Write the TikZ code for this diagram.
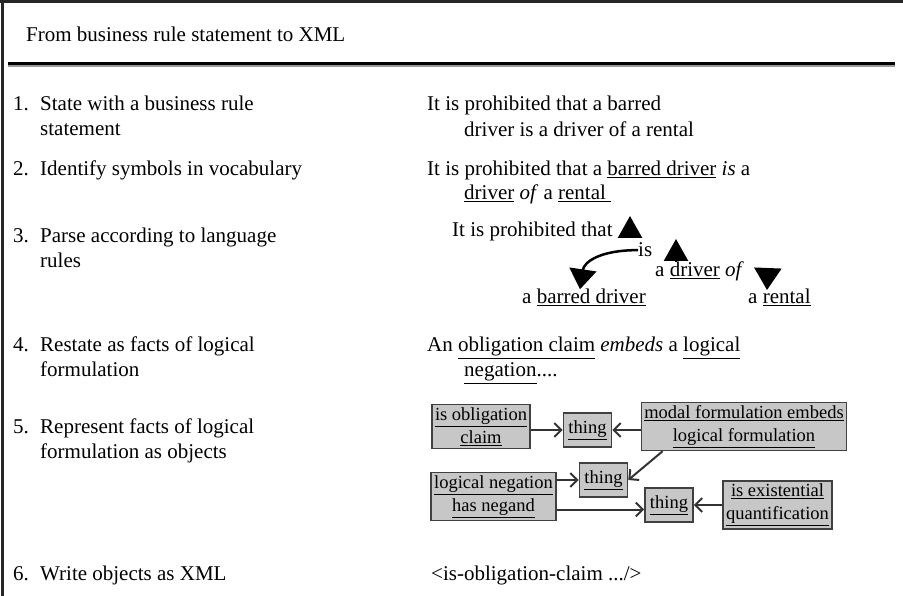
\documentclass[tikz,border=0pt]{standalone}
\usepackage{fontspec}
\setmainfont{Liberation Serif}
\usetikzlibrary{arrows.meta}

\tikzset{
	txt/.style={anchor=base west, inner sep=0pt},
	objbox/.style={draw=black!75, line width=1.5pt, fill=black!22, align=center, inner xsep=3pt, inner ysep=3pt, font=\fontsize{18.5}{23}\selectfont},
	thingbox/.style={objbox, minimum height=34pt, inner xsep=5pt},
	objarrow/.style={-{Straight Barb[length=7pt,width=14pt,line width=2pt]}, line width=2pt, draw=black!80},
	headarrow/.style={-{Triangle[length=22pt,width=24pt]}, line width=2.5pt},
}

\begin{document}
\begin{tikzpicture}[x=1pt, y=-1pt, font=\fontsize{21}{25}\selectfont]
		\useasboundingbox (0,0) rectangle (903,596);
		\begin{scope}
			% frame and title
			\draw[line width=3pt, black!85] (0,2) -- (903,2);
			\draw[line width=3pt, black!85] (2,0) -- (2,596);
			\node[txt] (ttl) at (26,42) {From business rule statement to XML};
			\draw[line width=3pt] (8,64) -- (895,64);
			\draw[line width=2pt, black!40] (8,66.5) -- (895,66.5);

			% steps
			\node[txt] (n1) at (13,111) {1.};
			\node[txt] (l1a) at (40,111) {State with a business rule};
			\node[txt] (l1b) at (40,136) {statement};
			\node[txt] (n2) at (13,176) {2.};
			\node[txt] (l2a) at (40,176) {Identify symbols in vocabulary};
			\node[txt] (n3) at (13,243) {3.};
			\node[txt] (l3a) at (40,243) {Parse according to language};
			\node[txt] (l3b) at (40,268) {rules};
			\node[txt] (n4) at (13,352) {4.};
			\node[txt] (l4a) at (40,352) {Restate as facts of logical};
			\node[txt] (l4b) at (40,376) {formulation};
			\node[txt] (n5) at (13,433) {5.};
			\node[txt] (l5a) at (40,433) {Represent facts of logical};
			\node[txt] (l5b) at (40,458) {formulation as objects};
			\node[txt] (n6) at (13,580) {6.};
			\node[txt] (l6a) at (40,580) {Write objects as XML};

			% 1 and 2
			\node[txt] (r1a) at (427,111) {It is prohibited that a barred};
			\node[txt] (r1b) at (464,137) {driver is a driver of a rental};
			\node[txt] (r2a) at (427,176) {It is prohibited that a \underline{barred driver} \textit{is} a};
			\node[txt] (r2b) at (464,200) {\underline{driver} \textit{of} a \underline{rental\ }};

			% 3: parse
			\node[txt] (prohib) at (452,237) {It is prohibited that};
			\node[txt] (isv) at (638,257) {is};
			\node[txt] (drv) at (655,277) {a \underline{driver} \textit{of}};
			\node[txt] (barred) at (522,304) {a \underline{barred driver}};
			\node[txt] (rental) at (748,304) {a \underline{rental}};
			\coordinate (t1) at (630,216);
			\coordinate (t2) at (676,239);
			\coordinate (t3) at (767,290);
			\draw[headarrow, shorten <=5pt] ([xshift=-8pt]isv.north west) -- (t1); % is -> that
			\draw[headarrow] ([xshift=21pt]drv.north west) -- (t2); % driver -> is
			\draw[headarrow, -{Triangle[length=22pt,width=27pt]}, shorten <=8pt] ([xshift=24pt,yshift=10pt]drv.east) -- (t3); % of -> rental
			\draw[headarrow, -{Triangle[length=20pt,width=27pt]}] (isv.west) .. controls (600,250) and (584,262) .. ([xshift=58pt]barred.north west); % is -> barred driver

			% 4
			\node[txt] (r4a) at (427,352) {An \underline{obligation claim} \textit{embeds} a \underline{logical}};
			\node[txt] (r4b) at (464,377) {\underline{negation}....};

			% 5: objects
			\node[objbox] (oblig) at (481,426.5) {\underline{is obligation}\\\underline{claim}};
			\node[thingbox] (thA) at (587.5,430) {\underline{thing}};
			\node[objbox, minimum width=198pt] (modal) at (744,426.5) {\underline{modal formulation embeds}\\\underline{logical formulation}};
			\node[thingbox] (thB) at (603.5,480) {\underline{thing}};
			\node[objbox] (neg) at (493.5,496.5) {\underline{logical negation}\\\underline{has negand}};
			\node[thingbox] (thC) at (669,505) {\underline{thing}};
			\node[objbox] (exq) at (777.5,505) {\underline{is existential}\\\underline{quantification}};
			\draw[objarrow] (oblig.east |- thA) -- (thA.west);
			\draw[objarrow] (modal.west |- thA) -- (thA.east);
			\draw[objarrow] ([xshift=22pt]modal.south west) -- (thB.east);
			\draw[objarrow] (neg.east |- thB) -- (thB.west);
			\draw[objarrow] ([yshift=-13pt]neg.east) -- ([yshift=-13pt]neg.east -| thC.west);
			\draw[objarrow] (exq.west) -- (thC.east);

			% 6
			\node[txt] (r6) at (431,580) {<is-obligation-claim .../>};
		\end{scope}
	\end{tikzpicture}
\end{document}
